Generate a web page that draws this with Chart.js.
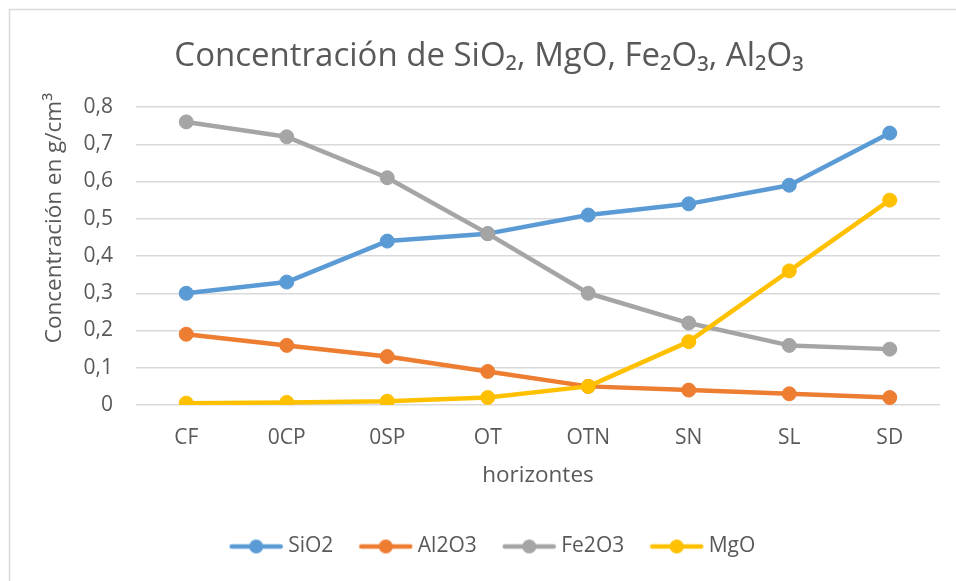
<!DOCTYPE html>
<html>
<head>
<meta charset="utf-8">
<script src="https://cdn.jsdelivr.net/npm/chart.js@4"></script>
<style>
  html, body { margin: 0; padding: 0; background: #ffffff; }
  #wrap { width: 956px; height: 581px; }
</style>
</head>
<body>
<div id="wrap"><canvas id="c" width="956" height="581"></canvas></div>
<script>
// ---- data ----
const categories = ['CF', '0CP', '0SP', 'OT', 'OTN', 'SN', 'SL', 'SD'];
const sio2  = [0.30, 0.33, 0.44, 0.46, 0.51, 0.54, 0.59, 0.73];
const al2o3 = [0.19, 0.16, 0.13, 0.09, 0.05, 0.04, 0.03, 0.02];
const fe2o3 = [0.76, 0.72, 0.61, 0.46, 0.30, 0.22, 0.16, 0.15];
const mgo   = [0.005, 0.007, 0.01, 0.02, 0.05, 0.17, 0.36, 0.55];
const seriesNames = ['SiO2', 'Al2O3', 'Fe2O3', 'MgO'];
const yTicks = [0, 0.1, 0.2, 0.3, 0.4, 0.5, 0.6, 0.7, 0.8];
const chartTitle = 'Concentración de SiO\u2082, MgO, Fe\u2082O\u2083, Al\u2082O\u2083';
const yTitle = 'Concentración en g/cm\u00B3';
const xTitle = 'horizontes';

const colors = ['#5B9BD5', '#ED7D31', '#A5A5A5', '#FFC000'];
const textColor = '#595959';
const gridColor = '#D9D9D9';
const FONT = "'Open Sans', 'Noto Sans', 'DejaVu Sans', sans-serif";

function legendIcon(color) {
  const c = document.createElement('canvas');
  c.width = 55; c.height = 18;
  const g = c.getContext('2d');
  g.strokeStyle = color; g.lineWidth = 4.5; g.lineCap = 'round';
  g.beginPath(); g.moveTo(3, 9); g.lineTo(52, 9); g.stroke();
  g.fillStyle = color;
  g.beginPath(); g.arc(27.5, 9, 7, 0, Math.PI * 2); g.fill();
  return c;
}
const icons = colors.map(legendIcon);

const allSeries = [sio2, al2o3, fe2o3, mgo];
const datasets = allSeries.map((vals, i) => ({
  label: seriesNames[i],
  data: vals,
  borderColor: colors[i],
  backgroundColor: colors[i],
  pointBackgroundColor: colors[i],
  pointBorderColor: colors[i],
  borderWidth: 4.5,
  pointRadius: 7,
  pointBorderWidth: 1,
  pointHoverRadius: 7,
  borderJoinStyle: 'round',
  borderCapStyle: 'round',
  tension: 0,
  order: allSeries.length - i
}));

const bgPlugin = {
  id: 'bg',
  beforeDraw(chart) {
    const ctx = chart.ctx;
    ctx.save();
    ctx.fillStyle = '#ffffff';
    ctx.fillRect(0, 0, chart.width, chart.height);
    ctx.strokeStyle = '#D9D9D9';
    ctx.lineWidth = 1.5;
    ctx.beginPath();
    ctx.moveTo(9.5, chart.height + 5);
    ctx.lineTo(9.5, 9.5);
    ctx.lineTo(chart.width + 5, 9.5);
    ctx.stroke();
    ctx.restore();
  }
};

// small placement tweaks (title of the y axis and legend row), applied after layout
const placePlugin = {
  id: 'place',
  afterLayout(chart) {
    const y = chart.scales.y;
    if (y) y.top -= 14;
    if (chart.legend) { chart.legend.left += 6; chart.legend.right += 6; }
  }
};

new Chart(document.getElementById('c'), {
  type: 'line',
  data: { labels: categories, datasets },
  plugins: [bgPlugin, placePlugin],
  options: {
    responsive: false,
    animation: false,
    devicePixelRatio: 1,
    layout: { padding: { left: 38, right: 16, top: 10, bottom: 14 } },
    plugins: {
      tooltip: { enabled: false },
      title: {
        display: true,
        text: chartTitle,
        color: textColor,
        font: { family: FONT, size: 33, weight: 'normal', lineHeight: 1.2 },
        padding: { top: 26.5, bottom: 30.9 }
      },
      legend: {
        display: true,
        position: 'bottom',
        labels: {
          color: textColor,
          font: { family: FONT, size: 21 },
          usePointStyle: true,
          pointStyleWidth: 43,
          padding: 31,
          generateLabels(chart) {
            return chart.data.datasets.map((ds, i) => ({
              text: ds.label,
              fillStyle: ds.borderColor,
              strokeStyle: ds.borderColor,
              fontColor: textColor,
              lineWidth: 0,
              pointStyle: icons[i],
              hidden: false,
              datasetIndex: i
            }));
          }
        }
      }
    },
    scales: {
      x: {
        offset: true,
        grid: { display: false, drawTicks: false },
        border: { display: false },
        ticks: { color: textColor, font: { family: FONT, size: 21 }, padding: 20, maxRotation: 0 },
        title: {
          display: true, text: xTitle, color: textColor,
          font: { family: FONT, size: 22.5, lineHeight: 1.2 },
          padding: { top: 0, bottom: 15.5 }
        },
        afterFit(scale) { scale.height = 100; }
      },
      y: {
        min: 0, max: 0.8,
        afterBuildTicks(scale) { scale.ticks = yTicks.map(v => ({ value: v })); },
        grid: { color: gridColor, lineWidth: 1.5, drawTicks: false },
        border: { display: false },
        ticks: {
          color: textColor, font: { family: FONT, size: 21 }, padding: 23,
          callback: (v) => String(Math.round(v * 10) / 10).replace('.', ',')
        },
        title: {
          display: true, text: yTitle, color: textColor, align: 'end',
          font: { family: FONT, size: 22.5, lineHeight: 1.2 },
          padding: { top: 3.5, bottom: 0 }
        },
        afterFit(scale) { scale.width = 98; }
      }
    }
  }
});
</script>
</body>
</html>
